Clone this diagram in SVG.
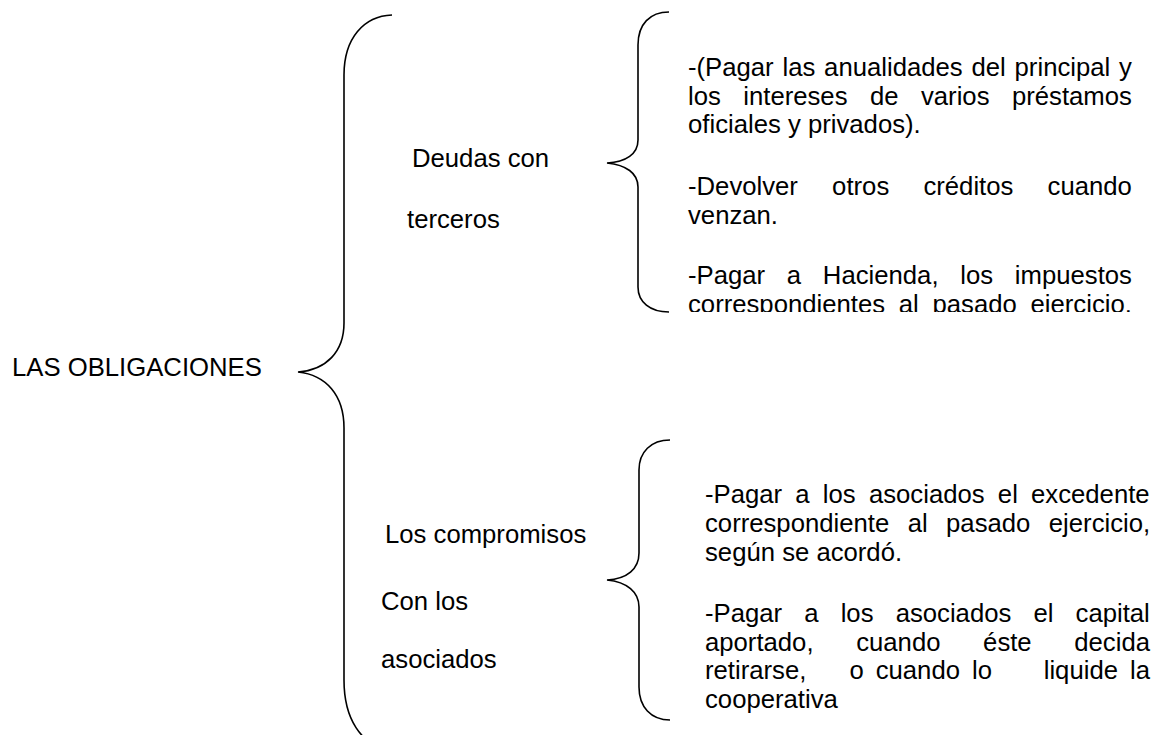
<svg xmlns="http://www.w3.org/2000/svg" width="1162" height="735" viewBox="0 0 1162 735">
  <style>
    text { font-family: "Liberation Sans", Arial, sans-serif; font-size: 25.7px; fill: #000; }
    .brace { fill: none; stroke: #000; stroke-width: 1.6; }
  </style>
  <defs>
    <clipPath id="clipTop"><rect x="670" y="0" width="492" height="312"/></clipPath>
  </defs>
  <rect width="1162" height="735" fill="#fff"/>

  <g id="connectors">
    <path id="brace-main" class="brace" d="M392,15 C364,16 344,38 344,75 L344,323 C344,352 326,370 298,372 C326,375 344,395 344,428 L344,680 C344,718 360,745 392,752"/>
    <path id="brace-deudas" class="brace" d="M669,12 C650,12 638,24 638,45 L638,140 C638,154 626,162 607,163 C626,165 638,173 638,187 L638,287 C638,302 650,312 669,312"/>
    <path id="brace-compromisos" class="brace" d="M670,440 C651,440 639,452 639,470 L639,553 C639,569 627,579 607,580 C627,582 639,592 639,607 L639,687 C639,707 651,720 670,720"/>
  </g>

  <g id="node-root">
    <text x="12" y="376">LAS OBLIGACIONES</text>
  </g>

  <g id="node-deudas">
    <text x="412" y="167">Deudas con</text>
    <text x="407" y="228">terceros</text>
  </g>

  <g id="node-compromisos">
    <text x="385" y="543">Los compromisos</text>
    <text x="381" y="610">Con los</text>
    <text x="381" y="668">asociados</text>
  </g>

  <g id="node-deudas-detalle" clip-path="url(#clipTop)">
    <text x="688" y="76" word-spacing="1.68">-(Pagar las anualidades del principal y</text>
    <text x="688" y="104.5" word-spacing="15.3">los intereses de varios préstamos</text>
    <text x="688" y="133">oficiales y privados).</text>
    <text x="688" y="195" word-spacing="27.07">-Devolver otros créditos cuando</text>
    <text x="688" y="223.5">venzan.</text>
    <text x="688" y="284" word-spacing="14.6">-Pagar a Hacienda, los impuestos</text>
    <text x="688" y="312.5" word-spacing="6.6">correspondientes al pasado ejercicio.</text>
  </g>

  <g id="node-compromisos-detalle">
    <text x="705" y="503" word-spacing="6.1">-Pagar a los asociados el excedente</text>
    <text x="705" y="532" word-spacing="11.3">correspondiente al pasado ejercicio,</text>
    <text x="705" y="561">según se acordó.</text>
    <text x="705" y="621.5" word-spacing="15">-Pagar a los asociados el capital</text>
    <text x="705" y="650.5" word-spacing="35.5">aportado, cuando éste decida</text>
    <text y="679"><tspan x="705">retirarse,</tspan> <tspan x="849.4">o</tspan> <tspan x="875.7">cuando</tspan> <tspan x="972">lo</tspan> <tspan x="1043.7">liquide</tspan> <tspan x="1130">la</tspan></text>
    <text x="705" y="708">cooperativa</text>
  </g>
</svg>
